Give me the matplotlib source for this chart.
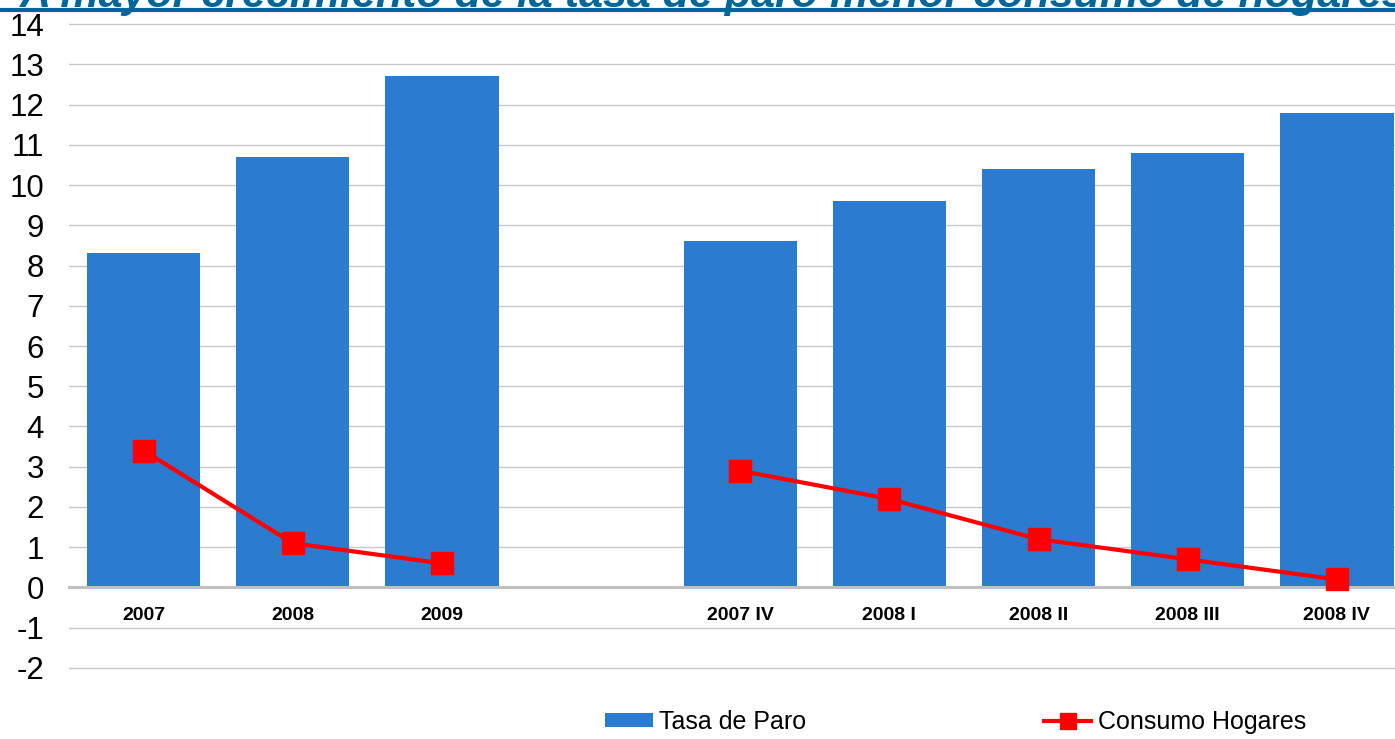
import numpy as np
import matplotlib
matplotlib.use("Agg")
import matplotlib.pyplot as plt
from matplotlib.patches import Patch
from matplotlib.lines import Line2D

plt.rcParams['font.family'] = ['Liberation Sans', 'DejaVu Sans']

# data (one empty slot between the yearly and quarterly groups)
categories = ["2007", "2008", "2009", "", "2007 IV", "2008 I", "2008 II", "2008 III", "2008 IV"]
tasa_paro = [8.3, 10.7, 12.7, np.nan, 8.6, 9.6, 10.4, 10.8, 11.8]
consumo_hogares = [3.4, 1.1, 0.6, np.nan, 2.9, 2.2, 1.2, 0.7, 0.2]
yticks = list(range(-2, 15))

bar_color = "#2B7BD1"
line_color = "#FF0000"
title_color = "#006699"

fig = plt.figure(figsize=(13.95, 7.39), dpi=100)
ax = fig.add_axes([69/1395, 1 - 670/739, 1 - 69/1395, (670 - 22)/739])

# zero line acts as the category axis
for s in ["left", "right", "top"]:
    ax.spines[s].set_visible(False)
ax.spines["bottom"].set_position(("data", 0))
ax.spines["bottom"].set_color("#c0c0c0")
ax.spines["bottom"].set_linewidth(2.2)
ax.spines["bottom"].set_zorder(2.5)

x = np.arange(len(categories))
ax.bar(x, tasa_paro, width=0.76, color=bar_color, zorder=2)
ax.plot(x, consumo_hogares, color=line_color, lw=3, marker="s", markersize=16,
        zorder=3)

ax.set_xlim(-0.5, 8.39)
ax.set_ylim(-2.05, 14.05)
ax.set_yticks(yticks)
ax.set_yticklabels([str(v) for v in yticks], fontsize=22.5)
ax.set_xticks(x)
ax.set_xticklabels(categories, fontsize=14, fontweight="bold")

ax.set_axisbelow(True)
ax.yaxis.grid(True, color="#c8c8c8", lw=1.0)
ax.tick_params(axis="both", length=0)
ax.tick_params(axis="x", pad=14)
ax.tick_params(axis="y", pad=18)

# title, clipped at the top as in the original slide
fig.text(20/1395, 1 - 6.5/739, "A mayor crecimiento de la tasa de paro menor consumo de hogares",
         fontsize=31, fontweight="bold", fontstyle="italic", color=title_color,
         va="baseline", ha="left")
fig.add_artist(Line2D([0, 1], [1 - 10/739, 1 - 10/739], color=title_color, lw=3,
                      transform=fig.transFigure))

handles = [Patch(facecolor=bar_color, label="Tasa de Paro"),
           Line2D([], [], color=line_color, lw=3, marker="s", markersize=11,
                  label="Consumo Hogares")]
fig.legend(handles=handles, loc="center", bbox_to_anchor=(0.685, 0.023), ncol=2,
           frameon=False, fontsize=18, handlelength=1.9, handleheight=0.5,
           handletextpad=0.25, columnspacing=9.5, borderaxespad=0)

fig.savefig("out.png", dpi=100)
